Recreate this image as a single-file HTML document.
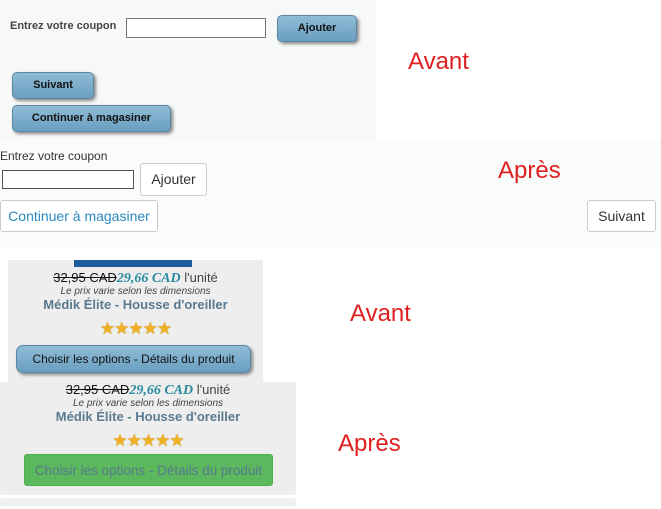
<!DOCTYPE html>
<html><head><meta charset="utf-8"><style>
body{margin:0;width:661px;height:509px;background:#fff;position:relative;overflow:hidden;font-family:"Liberation Sans",Arial,sans-serif}
.a{position:absolute}
.bb{position:absolute;background:linear-gradient(#8fbcd6,#6a9fc0);border:1px solid #5a86a3;border-radius:5px;box-shadow:2px 2px 3px #888;font-size:11px;font-weight:bold;color:#111;text-align:center;box-sizing:border-box}
.red{position:absolute;color:#e02020;font-size:24px;font-family:"Liberation Sans",sans-serif}
.wb{position:absolute;background:#fff;border:1px solid #ccc;border-radius:3px;box-sizing:border-box;text-align:center;font-size:14px}
.st{color:#f0b020;font-size:17px;letter-spacing:-1px;text-shadow:0 0 1px #b07000}
.pr{font-size:13px}
.sub{font-size:10px}
.ti{font-size:13px;font-weight:bold;color:#5a7a90}
</style></head><body>
<div class="a" style="left:0;top:0;width:376px;height:140px;background:#f7f9f9"></div>
<div class="a" style="left:0;top:140px;width:661px;height:108px;background:#fafbfb"></div>
<div class="a" style="left:10px;top:20px;font-size:11px;font-weight:bold;color:#444">Entrez votre coupon</div>
<div class="a" style="left:126px;top:18px;width:140px;height:20px;border:1px solid #777;background:#fff;box-sizing:border-box"></div>
<div class="bb" style="left:277px;top:15px;width:80px;height:27px;line-height:25px">Ajouter</div>
<div class="bb" style="left:12px;top:72px;width:82px;height:27px;line-height:25px">Suivant</div>
<div class="bb" style="left:12px;top:105px;width:159px;height:27px;line-height:25px">Continuer à magasiner</div>
<div class="red" style="left:408px;top:48px">Avant</div>
<div class="a" style="left:0;top:149px;font-size:12px;color:#333">Entrez votre coupon</div>
<div class="a" style="left:2px;top:170px;width:132px;height:19px;border:1px solid #555;background:#fff;box-sizing:border-box"></div>
<div class="wb" style="left:140px;top:163px;width:67px;height:33px;line-height:31px;color:#333">Ajouter</div>
<div class="wb" style="left:0;top:200px;width:158px;height:32px;line-height:30px;color:#2a8ac0">Continuer à magasiner</div>
<div class="wb" style="left:587px;top:200px;width:69px;height:32px;line-height:30px;color:#333">Suivant</div>
<div class="red" style="left:498px;top:157px">Après</div>

<div class="a" style="left:8px;top:260px;width:255px;height:122px;background:#eee"></div>
<div class="a" style="left:74px;top:260px;width:118px;height:7px;background:#1c5c9c"></div>
<div class="a pr" style="left:8px;top:270px;width:255px;text-align:center;color:#444"><s style="color:#111">32,95 CAD</s><i style="font-family:'Liberation Serif',serif;font-weight:bold;color:#2a8aa0;font-size:14px">29,66 CAD</i> l'unité</div>
<div class="a sub" style="left:8px;top:286px;width:255px;text-align:center;font-style:italic;color:#444">Le prix varie selon les dimensions</div>
<div class="a ti" style="left:8px;top:297px;width:255px;text-align:center">Médik Élite - Housse d'oreiller</div>
<div class="a st" style="left:8px;top:319px;width:255px;text-align:center">★★★★★</div>
<div class="bb" style="left:16px;top:345px;width:235px;height:28px;line-height:26px;font-size:12px;font-weight:normal;border-radius:7px">Choisir les options - Détails du produit</div>
<div class="red" style="left:350px;top:300px">Avant</div>

<div class="a" style="left:0;top:382px;width:296px;height:113px;background:#eee;border-radius:3px"></div>
<div class="a pr" style="left:0;top:382px;width:296px;text-align:center;color:#444"><s style="color:#111">32,95 CAD</s><i style="font-family:'Liberation Serif',serif;font-weight:bold;color:#2a8aa0;font-size:14px">29,66 CAD</i> l'unité</div>
<div class="a sub" style="left:0;top:398px;width:296px;text-align:center;font-style:italic;color:#444">Le prix varie selon les dimensions</div>
<div class="a ti" style="left:0;top:409px;width:296px;text-align:center">Médik Élite - Housse d'oreiller</div>
<div class="a st" style="left:0;top:431px;width:296px;text-align:center">★★★★★</div>
<div class="a" style="left:24px;top:454px;width:249px;height:32px;line-height:31px;background:#5cb85c;border:1px solid #4cae4c;border-radius:3px;box-sizing:border-box;text-align:center;font-size:13.5px;color:#587890">Choisir les options - Détails du produit</div>
<div class="a" style="left:0;top:498px;width:296px;height:8px;background:#f0f0f0;border-radius:3px"></div>
<div class="red" style="left:338px;top:430px">Après</div>
</body></html>
